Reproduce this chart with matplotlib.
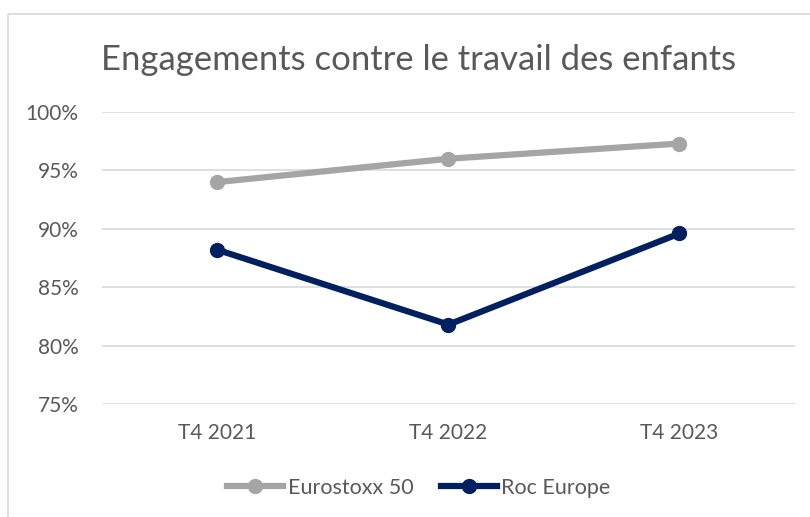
import matplotlib.pyplot as plt
from matplotlib.patches import Rectangle
from matplotlib.ticker import FuncFormatter

categories = ["T4 2021", "T4 2022", "T4 2023"]
eurostoxx = [94.0, 96.0, 97.3]
roc_europe = [88.2, 81.8, 89.6]
series_names = ["Eurostoxx 50", "Roc Europe"]

plt.rcParams['font.family'] = ['Lato', 'DejaVu Sans']
W, H = 810, 517
fig = plt.figure(figsize=(W / 100, H / 100), dpi=100)

# chart frame like the Excel chart area (cut by the screenshot on right/bottom)
fig.patches.append(Rectangle((8 / W, 0 - 0.02), 1.0, 1 - 14 / H + 0.02,
                             transform=fig.transFigure, fill=False,
                             edgecolor='#D9D9D9', linewidth=1.2))

ax = fig.add_axes([102 / W, 1 - 404 / H, (795 - 102) / W, (404 - 112) / H])
x = range(len(categories))
ax.plot(x, eurostoxx, color='#A5A5A5', lw=4.5, marker='o', ms=10, label=series_names[0])
ax.plot(x, roc_europe, color='#002060', lw=4.5, marker='o', ms=10, label=series_names[1])

ax.set_xlim(-0.5, len(categories) - 0.5)
ax.set_ylim(75, 100)
ax.set_yticks([75, 80, 85, 90, 95, 100])
ax.yaxis.set_major_formatter(FuncFormatter(lambda v, p: f"{v:.0f}%"))
ax.set_xticks(list(x))
ax.set_xticklabels(categories)
ax.grid(axis='y', color='#D9D9D9', lw=1.2)
ax.set_axisbelow(True)
for s in ax.spines.values():
    s.set_visible(False)
ax.tick_params(length=0, labelsize=15, labelcolor='#595959')
ax.tick_params(axis='y', pad=17)
ax.tick_params(axis='x', pad=14)

fig.text(419 / W, 1 - 60 / H, "Engagements contre le travail des enfants",
         ha='center', va='center', fontsize=24.9, color='#595959')

fig.legend(loc='center', bbox_to_anchor=(419 / W, 1 - 488 / H), ncol=2, frameon=False,
           fontsize=15.5, labelcolor='#595959', handlelength=2.6, handletextpad=0.2,
           columnspacing=1.3)

fig.savefig("out.png", dpi=100)
